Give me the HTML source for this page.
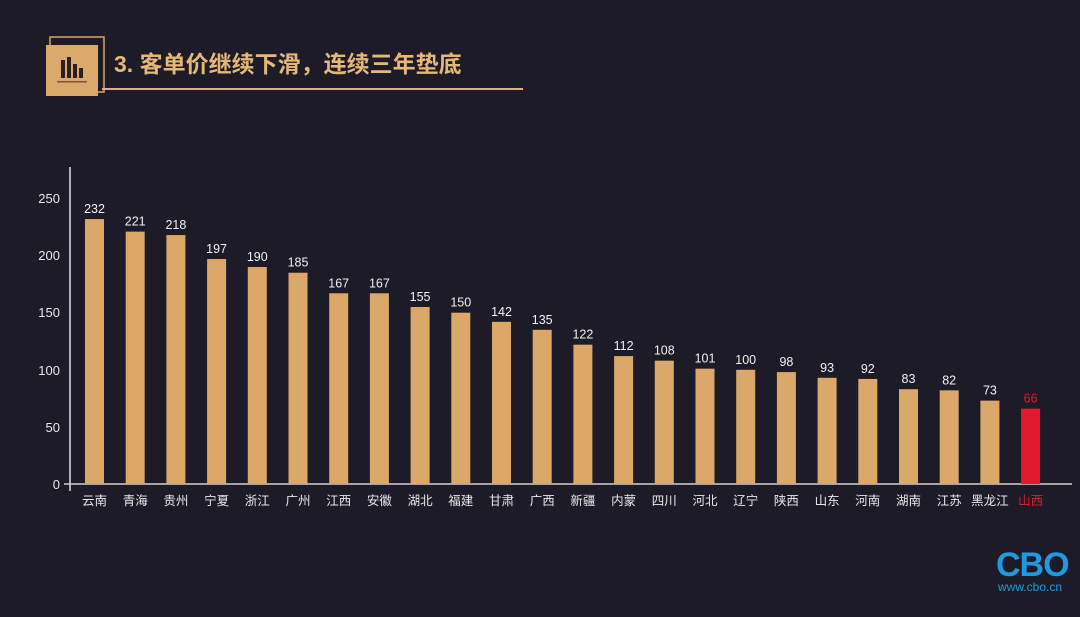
<!DOCTYPE html>
<html><head><meta charset="utf-8"><style>
body{margin:0;background:#1d1b27;}
svg{display:block;font-family:"Liberation Sans","Noto Sans CJK SC",sans-serif;}
</style></head><body>
<svg width="1080" height="617" viewBox="0 0 1080 617">
<rect width="1080" height="617" fill="#1d1b27"/>
<rect x="50" y="37" width="54" height="55" fill="none" stroke="#d9a86a" stroke-width="1.5"/>
<rect x="46" y="45" width="52" height="51" fill="#dca96c"/>
<rect x="61" y="60" width="4" height="18" fill="#2a2020"/>
<rect x="67" y="57" width="4" height="21" fill="#2a2020"/>
<rect x="73" y="64" width="4" height="14" fill="#2a2020"/>
<rect x="79" y="68" width="4" height="10" fill="#2a2020"/>
<rect x="57" y="81" width="30" height="1.5" fill="#8a4a30"/>
<rect x="102" y="88" width="421" height="2" fill="#d9b08a"/>
<text x="114" y="72" fill="#e6b878" font-size="23" font-weight="bold">3. 客单价继续下滑，连续三年垫底</text>
<line x1="70" y1="167" x2="70" y2="491" stroke="#e0e0e0" stroke-width="1.5"/>
<line x1="64" y1="484" x2="1072" y2="484" stroke="#d0d0d0" stroke-width="1.5"/>
<g fill="#e8e8e8" font-size="13" text-anchor="end">
<text x="60" y="489">0</text><text x="60" y="432">50</text><text x="60" y="375">100</text><text x="60" y="317">150</text><text x="60" y="260">200</text><text x="60" y="203">250</text>
</g>
<g id="bars" font-size="12.5" text-anchor="middle"></g>
</svg>
<script>
var d=[["云南",232],["青海",221],["贵州",218],["宁夏",197],["浙江",190],["广州",185],["江西",167],["安徽",167],["湖北",155],["福建",150],["甘肃",142],["广西",135],["新疆",122],["内蒙",112],["四川",108],["河北",101],["辽宁",100],["陕西",98],["山东",93],["河南",92],["湖南",83],["江苏",82],["黑龙江",73],["山西",66]];
var g=document.getElementById('bars'),s='';
d.forEach(function(e,i){var cx=94.5+i*40.7,h=e[1]*1.142,y=484-h,last=i==23;
s+='<rect x="'+(cx-9.5)+'" y="'+y+'" width="19" height="'+h+'" fill="'+(last?'#e0192b':'#dba86a')+'"/>';
s+='<text x="'+cx+'" y="'+(y-6)+'" fill="'+(last?'#e0192b':'#f0f0f0')+'">'+e[1]+'</text>';
s+='<text x="'+cx+'" y="505" fill="'+(last?'#e0192b':'#e8e8e8')+'">'+e[0]+'</text>';});
g.innerHTML=s;
</script>
<div style="position:absolute;left:996px;top:546px;font:bold 34px 'Liberation Sans',sans-serif;color:#1e9be0;letter-spacing:-1px">CBO</div>
<div style="position:absolute;left:998px;top:580px;font:12px 'Liberation Sans',sans-serif;color:#1e9be0">www.cbo.cn</div>
</body></html>
